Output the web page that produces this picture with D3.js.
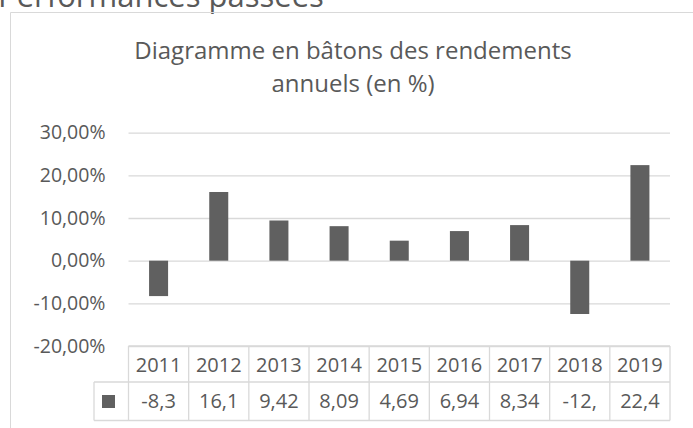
<!DOCTYPE html>
<html>
<head>
<meta charset="utf-8">
<script src="https://cdn.jsdelivr.net/npm/d3@7"></script>
<style>
  body { margin: 0; background: #fff; }
  text { font-family: "Open Sans", "Noto Sans", sans-serif; fill: #595959; }
</style>
</head>
<body>
<div id="chart"></div>
<script>
const years = ["2011","2012","2013","2014","2015","2016","2017","2018","2019"];
const returns = [-8.3, 16.1, 9.42, 8.09, 4.69, 6.94, 8.34, -12.5, 22.4];
// what the data table shows (cells are too narrow, Excel cuts the text)
const cellLabels = ["-8,3","16,1","9,42","8,09","4,69","6,94","8,34","-12,","22,4"];
const yTicks = [-20, -10, 0, 10, 20, 30];
const titleLines = ["Diagramme en bâtons des rendements", "annuels (en %)"];
const pageHeading = "Performances passées";

const width = 693, height = 428;
const plotLeft = 128.5, plotRight = 670, plotTop = 132.7, plotBottom = 346;
const row1 = 382, row2 = 420.5;
const barColor = "#606060", gridColor = "#d9d9d9";

const fr = d3.formatLocale({decimal: ",", thousands: " ", grouping: [3], currency: ["", "€"], minus: "-"});
const fmt = fr.format(".2f");

const svg = d3.select("#chart").append("svg")
    .attr("width", width).attr("height", height);

// heading of the document, cut off at the top
svg.append("text")
    .attr("x", -2).attr("y", 7)
    .style("font-size", "31px")
    .text(pageHeading);

// chart frame
svg.append("path")
    .attr("d", `M10.5,${height + 2}V12.5H${width + 2}`)
    .attr("fill", "none")
    .attr("stroke", gridColor);

// title
svg.append("g").selectAll("text")
  .data(titleLines)
  .join("text")
    .attr("x", 353)
    .attr("y", (d, i) => 58.5 + i * 33.3)
    .attr("text-anchor", "middle")
    .style("font-size", "24px")
    .text(d => d);

const x = d3.scaleBand().domain(years).range([plotLeft, plotRight]).padding(0);
const y = d3.scaleLinear().domain([-20, 30]).range([plotBottom, plotTop]);

// gridlines + value labels
const yAxis = svg.append("g")
    .attr("transform", `translate(${plotLeft},0)`)
    .call(d3.axisLeft(y).tickValues(yTicks)
      .tickSizeInner(-(plotRight - plotLeft)).tickSizeOuter(0).tickPadding(23)
      .tickFormat(d => fmt(d) + "%"));
yAxis.select(".domain").remove();
yAxis.selectAll(".tick line").attr("stroke", gridColor).attr("stroke-width", 1.3);
yAxis.selectAll(".tick text")
    .attr("fill", "#595959")
    .style("font-family", "'Open Sans', sans-serif")
    .style("font-size", "19.5px");

// bars
const barW = x.bandwidth() * 0.316;
svg.append("g").selectAll("rect")
  .data(years.map((yr, i) => ({yr, v: returns[i]})))
  .join("rect")
    .attr("x", d => x(d.yr) + (x.bandwidth() - barW) / 2)
    .attr("y", d => y(Math.max(0, d.v)))
    .attr("width", barW)
    .attr("height", d => Math.abs(y(d.v) - y(0)))
    .attr("fill", barColor);

// data table
const tbl = svg.append("g").attr("fill", "none").attr("stroke", gridColor).attr("stroke-width", 1.3);
tbl.append("line").attr("x1", plotLeft).attr("x2", plotRight).attr("y1", plotBottom).attr("y2", plotBottom);
tbl.append("line").attr("x1", 94).attr("x2", plotRight).attr("y1", row1).attr("y2", row1);
tbl.append("line").attr("x1", 94).attr("x2", plotRight).attr("y1", row2).attr("y2", row2);
tbl.append("line").attr("x1", 94).attr("x2", 94).attr("y1", row1).attr("y2", row2);
tbl.selectAll("line.col")
  .data(years.concat(["end"]))
  .join("line")
    .attr("class", "col")
    .attr("x1", (d, i) => i < years.length ? x(d) : plotRight)
    .attr("x2", (d, i) => i < years.length ? x(d) : plotRight)
    .attr("y1", plotBottom).attr("y2", row2);

svg.append("g").selectAll("text")
  .data(years)
  .join("text")
    .attr("x", d => x(d) + x.bandwidth() / 2)
    .attr("y", row1 - 10.5)
    .attr("text-anchor", "middle")
    .style("font-size", "20px")
    .text(d => d);

svg.append("g").selectAll("text")
  .data(cellLabels)
  .join("text")
    .attr("x", (d, i) => x(years[i]) + x.bandwidth() / 2)
    .attr("y", row2 - 12.5)
    .attr("text-anchor", "middle")
    .style("font-size", "20px")
    .text(d => d);

// legend key
svg.append("rect")
    .attr("x", 102).attr("y", 395)
    .attr("width", 13).attr("height", 13)
    .attr("fill", barColor);
</script>
</body>
</html>
